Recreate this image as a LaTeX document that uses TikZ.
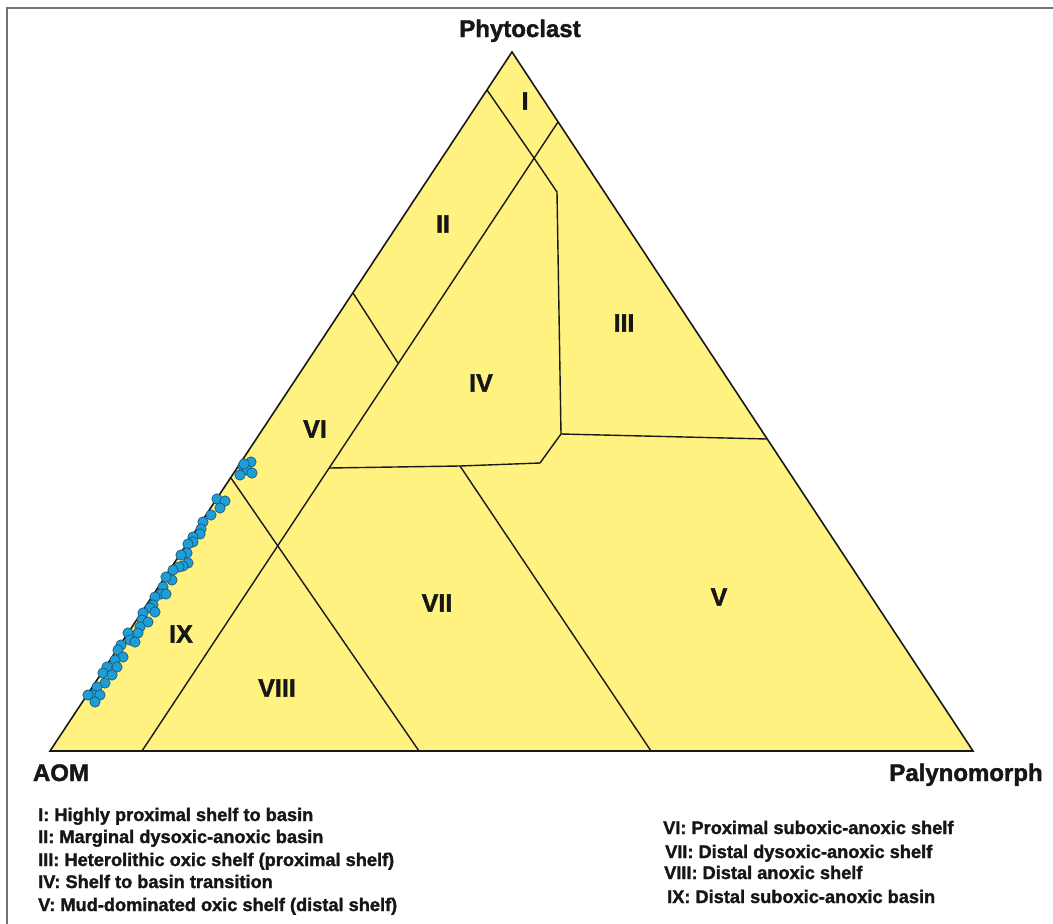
\documentclass[tikz,border=0pt]{standalone}
\usepackage{fontspec}
\setmainfont{Liberation Sans}[BoldFeatures={FakeBold=1.6}]
\definecolor{fillyellow}{RGB}{255,242,128}
\definecolor{dotblue}{RGB}{30,158,215}
\definecolor{dotedge}{RGB}{25,75,110}
\definecolor{textdark}{RGB}{22,22,22}
\definecolor{framegray}{RGB}{115,115,115}
\tikzset{
  zoneline/.style={line width=1.4pt, draw=black!90},
  zonelabel/.style={font=\fontsize{25}{30}\selectfont\bfseries, text=textdark, inner sep=0pt},
  axislabel/.style={font=\fontsize{24}{28}\selectfont\bfseries, text=textdark, anchor=base, inner sep=0pt},
  legendtext/.style={font=\fontsize{18.2}{22}\selectfont\bfseries, text=textdark, anchor=base west, inner sep=0pt},
  datadot/.style={fill=dotblue, draw=dotedge, line width=0.6pt}
}
\begin{document}
\begin{tikzpicture}[x=1pt,y=-1pt]
\useasboundingbox (0,0) rectangle (1053,924);
% frame
\draw[framegray, line width=1.2pt] (7,924) -- (7,8) -- (1053,8);
% vertices
\coordinate (P) at (512,52);
\coordinate (A) at (50,751);
\coordinate (R) at (973,751);
% boundary points
\coordinate (a1) at (487,90);
\coordinate (x1) at (534,158);
\coordinate (b1) at (557,192);
\coordinate (b2) at (561,434);
\coordinate (r1) at (767,439);
\coordinate (b3) at (540,463);
\coordinate (j1) at (460,466);
\coordinate (l1) at (329,468);
\coordinate (r2) at (558,122);
\coordinate (f1) at (142,751);
\coordinate (e1) at (353,293);
\coordinate (e2) at (398,363);
\coordinate (g1) at (231,478);
\coordinate (g2) at (419,751);
\coordinate (h1) at (651,751);
% fill
\fill[fillyellow] (P) -- (A) -- (R) -- cycle;
% zone lines
\draw[zoneline] (a1) -- (x1) -- (b1) -- (b2) -- (r1);
\draw[zoneline] (b2) -- (b3) -- (j1) -- (l1);
\draw[zoneline] (r2) -- (f1);
\draw[zoneline] (e1) -- (e2);
\draw[zoneline] (g1) -- (g2);
\draw[zoneline] (j1) -- (h1);
% outline
\draw[line width=1.6pt, black!90, line join=miter] (P) -- (A) -- (R) -- cycle;
% zone labels
\node[zonelabel] (zI) at (525,101) {I};
\node[zonelabel] (zII) at (443,224) {II};
\node[zonelabel] (zIII) at (624,323) {III};
\node[zonelabel] (zIV) at (481,383) {IV};
\node[zonelabel] (zV) at (719,597) {V};
\node[zonelabel] (zVI) at (315,429) {VI};
\node[zonelabel] (zVII) at (437,603) {VII};
\node[zonelabel] (zVIII) at (277,688) {VIII};
\node[zonelabel] (zIX) at (181,634) {IX};
% axis labels
\node[axislabel] (phy) at (520,37) {Phytoclast};
\node[axislabel] (aom) at (61,781) {AOM};
\node[axislabel] (paly) at (966,781) {Palynomorph};
% data points
\foreach \px/\py in {243/466,251/462,247/470,240/475,252/473,244/464,
  217/499,225/501,220/508,211/515,203/522,201/529,200/534,193/537,193/542,
  188/544,187/553,181/555,188/563,183/566,179/567,173/570,172/580,166/577,
  163/587,161/594,166/594,155/597,153/605,150/608,155/612,143/613,142/620,
  148/622,140/627,138/633,128/633,130/640,135/642,121/645,118/650,123/657,
  115/660,117/667,107/667,103/673,112/675,105/683,97/687,93/695,100/695,
  88/695,95/702}
  \draw[datadot] (\px,\py) circle[radius=5.2pt];
% legend
\node[legendtext] (l1t) at (38,821) {I: Highly proximal shelf to basin};
\node[legendtext] (l2t) at (38,843) {II: Marginal dysoxic-anoxic basin};
\node[legendtext] (l3t) at (38,866) {III: Heterolithic oxic shelf (proximal shelf)};
\node[legendtext] (l4t) at (38,888) {IV: Shelf to basin transition};
\node[legendtext] (l5t) at (38,911) {V: Mud-dominated oxic shelf (distal shelf)};
\node[legendtext] (l6t) at (663,834) {VI: Proximal suboxic-anoxic shelf};
\node[legendtext] (l7t) at (665,858) {VII: Distal dysoxic-anoxic shelf};
\node[legendtext] (l8t) at (664,879) {VIII: Distal anoxic shelf};
\node[legendtext] (l9t) at (667,903) {IX: Distal suboxic-anoxic basin};
\end{tikzpicture}
\end{document}
